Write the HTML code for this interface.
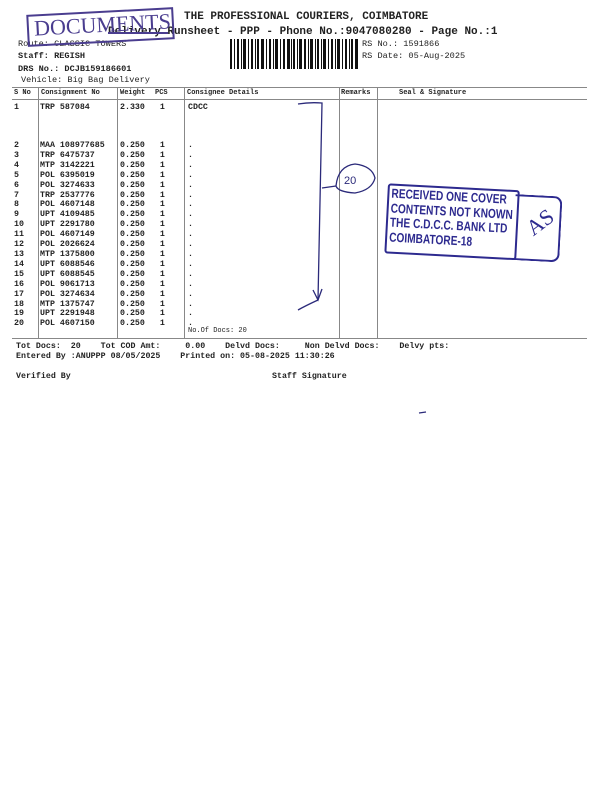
<!DOCTYPE html>
<html><head><meta charset="utf-8"><style>
body{margin:0;width:600px;height:800px;background:#fff;position:relative;overflow:hidden;font-family:"Liberation Mono",monospace;color:#222}
.t{position:absolute;white-space:pre;font-weight:bold;line-height:1}
.b{font-size:8.3px}
.h{font-size:7px}
.hl{position:absolute;background:#888;height:1px}
.vl{position:absolute;background:#888;width:1px}
</style></head><body>
<div class="t" style="left:184px;top:12px;font-size:11px">THE PROFESSIONAL COURIERS, COIMBATORE</div>
<div class="t" style="left:108px;top:27px;font-size:11px">Delivery Runsheet - PPP - Phone No.:9047080280 - Page No.:1</div>
<div class="t" style="left:18px;top:40px;font-size:8.6px;font-weight:normal">Route: CLASSIC TOWERS</div>
<div class="t" style="left:18px;top:52px;font-size:8.6px">Staff: REGISH</div>
<div class="t" style="left:18px;top:65px;font-size:8.6px">DRS No.: DCJB159186601</div>
<div class="t" style="left:21px;top:76px;font-size:8.6px;font-weight:normal">Vehicle: Big Bag Delivery</div>
<div class="t" style="left:362px;top:40px;font-size:8.6px;font-weight:normal">RS No.: 1591866</div>
<div class="t" style="left:362px;top:52px;font-size:8.6px;font-weight:normal">RS Date: 05-Aug-2025</div>
<svg style="position:absolute;left:230px;top:39px" width="128" height="30">
<g fill="#111">
<rect x="0" width="2" height="30"/><rect x="4" width="1" height="30"/><rect x="7" width="2" height="30"/><rect x="11" width="1" height="30"/><rect x="13" width="3" height="30"/><rect x="18" width="1" height="30"/><rect x="21" width="2" height="30"/><rect x="25" width="1" height="30"/><rect x="27" width="2" height="30"/><rect x="31" width="3" height="30"/><rect x="36" width="1" height="30"/><rect x="39" width="2" height="30"/><rect x="43" width="1" height="30"/><rect x="45" width="3" height="30"/><rect x="50" width="1" height="30"/><rect x="53" width="2" height="30"/><rect x="57" width="3" height="30"/><rect x="61" width="1" height="30"/><rect x="63" width="2" height="30"/><rect x="67" width="1" height="30"/><rect x="69" width="3" height="30"/><rect x="74" width="2" height="30"/><rect x="78" width="1" height="30"/><rect x="80" width="3" height="30"/><rect x="85" width="1" height="30"/><rect x="87" width="2" height="30"/><rect x="91" width="1" height="30"/><rect x="93" width="3" height="30"/><rect x="98" width="1" height="30"/><rect x="101" width="2" height="30"/><rect x="105" width="1" height="30"/><rect x="107" width="3" height="30"/><rect x="112" width="1" height="30"/><rect x="115" width="2" height="30"/><rect x="119" width="1" height="30"/><rect x="121" width="2" height="30"/><rect x="125" width="3" height="30"/>
</g></svg>
<div style="position:absolute;left:27px;top:11px;width:143px;height:28px;border:2px solid #4a3d8f;transform:rotate(-3deg)"></div>
<div style="position:absolute;left:34px;top:12px;font-family:'Liberation Serif',serif;font-size:22px;color:#4a3d8f;transform:rotate(-3deg);white-space:pre">DOCUMENTS</div>
<div style="position:absolute;left:108px;top:32px;width:60px;height:1.5px;background:#4a3d8f"></div>
<div class="hl" style="left:12px;top:87px;width:575px"></div>
<div class="hl" style="left:12px;top:99px;width:575px"></div>
<div class="hl" style="left:12px;top:338px;width:575px"></div>
<div class="vl" style="left:38px;top:87px;height:251px"></div>
<div class="vl" style="left:117px;top:87px;height:251px"></div>
<div class="vl" style="left:184px;top:87px;height:251px"></div>
<div class="vl" style="left:339px;top:87px;height:251px"></div>
<div class="vl" style="left:377px;top:87px;height:251px"></div>
<div class="t h" style="left:14px;top:90px">S No</div>
<div class="t h" style="left:41px;top:90px">Consignment No</div>
<div class="t h" style="left:120px;top:90px">Weight</div>
<div class="t h" style="left:155px;top:90px">PCS</div>
<div class="t h" style="left:187px;top:90px">Consignee Details</div>
<div class="t h" style="left:341px;top:90px">Remarks</div>
<div class="t h" style="left:399px;top:90px">Seal &amp; Signature</div>
<div class="t b" style="left:14px;top:104px">1</div>
<div class="t b" style="left:40px;top:104px">TRP 587084</div>
<div class="t b" style="left:120px;top:104px">2.330   1</div>
<div class="t b" style="left:188px;top:104px">CDCC</div>
<div class="t b" style="left:14px;top:141px;line-height:9.9px">2
3
4
5
6
7
8
9
10
11
12
13
14
15
16
17
18
19
20</div>
<div class="t b" style="left:40px;top:141px;line-height:9.9px">MAA 108977685
TRP 6475737
MTP 3142221
POL 6395019
POL 3274633
TRP 2537776
POL 4607148
UPT 4109485
UPT 2291780
POL 4607149
POL 2026624
MTP 1375800
UPT 6088546
UPT 6088545
POL 9061713
POL 3274634
MTP 1375747
UPT 2291948
POL 4607150</div>
<div class="t b" style="left:120px;top:141px;line-height:9.9px">0.250   1
0.250   1
0.250   1
0.250   1
0.250   1
0.250   1
0.250   1
0.250   1
0.250   1
0.250   1
0.250   1
0.250   1
0.250   1
0.250   1
0.250   1
0.250   1
0.250   1
0.250   1
0.250   1</div>
<div class="t b" style="left:188px;top:141px;line-height:9.9px">.
.
.
.
.
.
.
.
.
.
.
.
.
.
.
.
.
.
.</div>
<div class="t" style="left:188px;top:328px;font-size:7px;font-weight:normal">No.Of Docs: 20</div>
<div class="t b" style="left:16px;top:343px">Tot Docs:  20    Tot COD Amt:     0.00    Delvd Docs:     Non Delvd Docs:    Delvy pts:</div>
<div class="t b" style="left:16px;top:353px">Entered By :ANUPPP 08/05/2025    Printed on: 05-08-2025 11:30:26</div>
<div class="t b" style="left:16px;top:373px">Verified By</div>
<div class="t b" style="left:272px;top:373px">Staff Signature</div>
<svg style="position:absolute;left:0;top:0" width="600" height="800">
<g fill="none" stroke="#2b2a7a" stroke-width="1.3">
<path d="M298 104 Q310 102 322 103 L318 300"/>
<path d="M313 290 L318 300 L322 289"/>
<path d="M318 300 Q305 306 298 310"/>
<path d="M322 188 L336 186"/>
<path d="M336 186 Q338 166 355 164 Q372 166 375 178 Q372 190 355 193 Q338 192 336 186"/>
<text x="344" y="184" font-family="Liberation Sans" font-size="11" fill="#2b2a7a" stroke="none">20</text>
<path d="M419 413 L426 412"/>
</g>
</svg>
<div style="position:absolute;left:386px;top:188px;width:178px;height:72px;transform:rotate(3deg);color:#2d2a8f">
<div style="position:absolute;left:0;top:0;width:128px;height:66px;border:2.5px solid #2d2a8f;border-radius:3px"></div>
<div style="position:absolute;left:128px;top:4px;width:45px;height:62px;border:2.5px solid #2d2a8f;border-left:none;border-radius:0 8px 8px 0"></div>
<div style="position:absolute;left:4px;top:3px;font-family:'Liberation Sans',sans-serif;font-weight:bold;font-size:13px;line-height:14.5px;transform:scaleX(0.78);transform-origin:left;white-space:pre">RECEIVED ONE COVER
CONTENTS NOT KNOWN
THE C.D.C.C. BANK LTD
COIMBATORE-18</div>
<div style="position:absolute;left:140px;top:18px;font-family:'Liberation Serif',serif;font-size:22px;transform:rotate(-40deg)">AS</div>
</div>
</body></html>
